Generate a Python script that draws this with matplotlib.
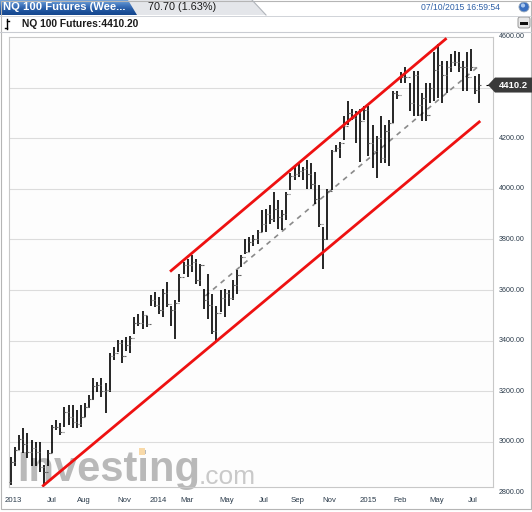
import matplotlib
matplotlib.use("Agg")
import matplotlib.pyplot as plt
from matplotlib.patches import Polygon, Rectangle, Circle, FancyBboxPatch

# ---------------- data ----------------
highs = [2942, 2982, 3028, 3054, 3037, 3008, 3001, 3001, 2909, 2968,
         3067, 3087, 3074, 3139, 3146, 3146, 3126, 3146, 3153, 3186,
         3251, 3238, 3251, 3232, 3350, 3376, 3403, 3403, 3413, 3420,
         3493, 3506, 3519, 3499, 3579, 3592, 3572, 3605, 3632, 3539,
         3559, 3665, 3711, 3724, 3738, 3724, 3705, 3605, 3665, 3585,
         3539, 3599, 3605, 3599, 3638, 3678, 3738, 3803, 3809, 3816,
         3836, 3915, 3922, 3935, 3988, 3955, 3915, 3988, 4061, 4087,
         4101, 4087, 4114, 4101, 4067, 4015, 3849, 3998, 4154, 4173,
         4187, 4287, 4347, 4314, 4307, 4314, 4327, 4327, 4254, 4208,
         4287, 4254, 4274, 4387, 4387, 4460, 4480, 4420, 4466, 4466,
         4380, 4420, 4420, 4539, 4572, 4506, 4506, 4533, 4546, 4539,
         4506, 4539, 4552, 4446, 4453]
lows = [2830, 2903, 2968, 2955, 2935, 2903, 2903, 2883, 2824, 2903,
        2955, 3047, 3028, 3060, 3067, 3054, 3054, 3060, 3100, 3133,
        3166, 3199, 3179, 3113, 3199, 3324, 3357, 3310, 3360, 3353,
        3426, 3459, 3446, 3453, 3539, 3532, 3506, 3493, 3532, 3459,
        3406, 3552, 3665, 3652, 3671, 3625, 3618, 3526, 3486, 3426,
        3400, 3512, 3493, 3539, 3559, 3585, 3691, 3743, 3750, 3776,
        3783, 3829, 3829, 3862, 3869, 3842, 3836, 3875, 3995, 4034,
        4048, 4034, 4001, 4001, 3942, 3849, 3683, 3796, 3995, 4147,
        4121, 4195, 4254, 4274, 4181, 4108, 4274, 4128, 4082, 4042,
        4102, 4102, 4089, 4261, 4354, 4420, 4420, 4307, 4287, 4287,
        4267, 4267, 4340, 4347, 4360, 4340, 4380, 4460, 4486, 4460,
        4387, 4387, 4466, 4374, 4340]
closes = [2920, 2970, 3010, 2990, 2960, 2975, 2960, 2900, 2880, 2955,
          3060, 3060, 3040, 3120, 3100, 3080, 3070, 3100, 3140, 3170,
          3220, 3225, 3200, 3205, 3340, 3350, 3390, 3340, 3385, 3410,
          3470, 3470, 3500, 3465, 3560, 3540, 3520, 3590, 3545, 3520,
          3550, 3650, 3700, 3700, 3710, 3640, 3700, 3560, 3540, 3440,
          3510, 3570, 3590, 3570, 3620, 3660, 3730, 3750, 3790, 3800,
          3830, 3860, 3900, 3880, 3920, 3890, 3900, 3980, 4050, 4060,
          4070, 4080, 4060, 4020, 3960, 3860, 3800, 3990, 4150, 4160,
          4180, 4250, 4300, 4280, 4300, 4270, 4310, 4180, 4150, 4200,
          4120, 4230, 4260, 4380, 4370, 4440, 4440, 4340, 4450, 4330,
          4360, 4290, 4400, 4470, 4490, 4450, 4480, 4500, 4500, 4480,
          4480, 4440, 4480, 4390, 4410]
first_open = 2840

x_tick_pos = [1.5, 11.0, 18.8, 28.5, 36.8, 43.9, 53.6, 62.6, 70.7, 78.5, 88.0, 95.8, 104.5, 113.3]
x_tick_labels = ["2013", "Jul", "Aug", "Nov", "2014", "Mar", "May", "Jul", "Sep", "Nov",
                 "2015", "Feb", "May", "Jul"]
y_ticks = [2800, 3000, 3200, 3400, 3600, 3800, 4000, 4200, 4400, 4600]
y_labels_shown = [2800, 3000, 3200, 3400, 3600, 3800, 4000, 4200, 4600]  # 4400 hidden by price box

# channel (trend) lines: (x0, y0, x1, y1) in bar index / price
upper_channel = [39.7, 3673, 107.0, 4595]
lower_channel = [8.6, 2824, 115.2, 4268]
mid_channel = [48.3, 3577, 114.8, 4485]

last_price = 4410.2

# ---------------- figure ----------------
W, H = 532, 512
fig = plt.figure(figsize=(W / 100, H / 100), dpi=100)
fig.patch.set_facecolor("white")


def fx(px):
    return px / W


def fy(py):
    return 1 - py / H


def fpoly(pts, **kw):
    p = Polygon([(fx(a), fy(b)) for a, b in pts], closed=True,
                transform=fig.transFigure, **kw)
    fig.patches.append(p)
    return p


# header row 1 background
fpoly([(0, 0), (W, 0), (W, 15), (0, 15)], facecolor="#ffffff", edgecolor="none")
# gray tab
fpoly([(120, 0), (252, 0), (266, 15), (120, 15)], facecolor="#e4e6ea", edgecolor="none")
fig.lines.append(plt.Line2D([fx(252), fx(266)], [fy(0), fy(15)], transform=fig.transFigure,
                            color="#b0b4ba", lw=0.8))
# blue tab gradient (stacked strips)
blues = ["#6f9fd8", "#6597d3", "#5b8ecd", "#5286c7", "#497dc1", "#4175bb", "#396db5",
         "#3266af", "#2b5fa8", "#255aa3", "#20559e", "#1c5099", "#194c95", "#174a92", "#15478f"]
for i, c in enumerate(blues):
    x_r0 = 128 + i * 9 / 15
    x_r1 = 128 + (i + 1) * 9 / 15
    fpoly([(0, i), (x_r0, i), (x_r1, i + 1), (0, i + 1)], facecolor=c, edgecolor="none")
fig.text(fx(3), fy(7.5), "NQ 100 Futures (Wee...", color="white", fontsize=8.1,
         fontweight="bold", family="Liberation Sans", va="center", ha="left")
fig.text(fx(148), fy(7.5), "70.70 (1.63%)", color="#1a1a1a", fontsize=7.8,
         family="Liberation Sans", va="center", ha="left")
fig.text(fx(500), fy(7.5), "07/10/2015 16:59:54", color="#2d5fa6", fontsize=6.2,
         family="Liberation Sans", va="center", ha="right")
circ = Circle((fx(524), fy(7)), 0.0095, transform=fig.transFigure, facecolor="#3a6fc0",
              edgecolor="#9ab", lw=0.6)
fig.patches.append(circ)
circ2 = Circle((fx(523), fy(5.5)), 0.004, transform=fig.transFigure, facecolor="#a9c8f0",
               edgecolor="none")
fig.patches.append(circ2)

# separator lines under header rows
fig.lines.append(plt.Line2D([0, 1], [fy(15.5), fy(15.5)], transform=fig.transFigure,
                            color="#c9ccd2", lw=0.6))
fig.lines.append(plt.Line2D([0, 1], [fy(31.7), fy(31.7)], transform=fig.transFigure,
                            color="#c9ccd2", lw=0.8))

# row 2: icon + title
fig.lines.append(plt.Line2D([fx(7), fx(7)], [fy(19), fy(29)], transform=fig.transFigure,
                            color="black", lw=1.0))
fig.lines.append(plt.Line2D([fx(7), fx(9)], [fy(21), fy(21)], transform=fig.transFigure,
                            color="black", lw=1.0))
fig.lines.append(plt.Line2D([fx(5), fx(7)], [fy(28), fy(28)], transform=fig.transFigure,
                            color="black", lw=1.0))
fig.text(fx(22), fy(24), "NQ 100 Futures:4410.20", color="#1a1a1a", fontsize=7.4,
         fontweight="bold", family="Liberation Sans", va="center", ha="left")
# minimize button
btn = FancyBboxPatch((fx(518), fy(28)), fx(12), 11 / H, boxstyle="round,pad=0,rounding_size=0.004",
                     transform=fig.transFigure, facecolor="#e8e8e8", edgecolor="#8a8a8a", lw=0.6)
fig.patches.append(btn)
fig.patches.append(Rectangle((fx(520), fy(24.5)), fx(8), 2.2 / H, transform=fig.transFigure,
                             facecolor="#111111", edgecolor="none"))

# ---------------- price axes ----------------
ax = fig.add_axes([fx(9), fy(487), fx(484), 450 / H])
ax.set_facecolor("#fdfdfd")
ax.set_xlim(0.51, 118.3)
ax.set_ylim(2822, 4600)
for s in ax.spines.values():
    s.set_color("#c8c8c8")
    s.set_linewidth(0.8)
ax.set_xticks([])
ax.set_yticks([])

for v in y_ticks[1:-1]:
    ax.axhline(v, color="#dcdcdc", lw=0.8, zorder=0)

# watermark
ax.text(0.017, -0.006, "Investing", transform=ax.transAxes, fontsize=30, fontweight="bold",
        family="Liberation Sans", color="#b9b9b9", ha="left", va="bottom", zorder=1)
ax.text(0.392, -0.004, ".com", transform=ax.transAxes, fontsize=19, family="Liberation Sans",
        color="#c9c9c9", ha="left", va="bottom", zorder=1)
fig.patches.append(Rectangle((fx(139), fy(455)), fx(6), 7 / H, transform=fig.transFigure,
                             facecolor="#f8d9a8", edgecolor="none", zorder=2))

# OHLC bars
idx = list(range(1, len(highs) + 1))
opens = [first_open] + closes[:-1]
ax.vlines(idx, lows, highs, color="black", lw=1.2, zorder=3)
ax.hlines(opens, [i - 0.4 for i in idx], idx, color="#666666", lw=0.8, zorder=3)
ax.hlines(closes, idx, [i + 0.4 for i in idx], color="#666666", lw=0.8, zorder=3)

# channel lines
ax.plot(upper_channel[0::2], upper_channel[1::2], color="#ee1111", lw=2.0, zorder=4,
        solid_capstyle="butt")
ax.plot(lower_channel[0::2], lower_channel[1::2], color="#ee1111", lw=2.0, zorder=4,
        solid_capstyle="butt")
ax.plot(mid_channel[0::2], mid_channel[1::2], color="#8a8a8a", lw=1.2, ls=(0, (3, 3)), zorder=2)

# last price marker line
ax.hlines([last_price], 116.5, 118.3, color="black", lw=0.8, zorder=3)

# y labels (right side)
ytr = ax.get_yaxis_transform()
for v in y_labels_shown:
    ax.text((512 - 9) / 484, v, f"{v:.2f}", transform=ytr, fontsize=5.1,
            family="Liberation Sans", color="#2a3a4a", ha="center", va="center", clip_on=False)

# x labels
xtr = ax.get_xaxis_transform()
for p, lab in zip(x_tick_pos, x_tick_labels):
    ax.text(p, (487 - 500) / 450, lab, transform=xtr, fontsize=5.6,
            family="Liberation Sans", color="#2a3a4a", ha="center", va="center", clip_on=False)

# price label box
ydisp = 487 - (last_price - 2822) * 450 / (4600 - 2822)
fpoly([(488, ydisp), (495, ydisp - 7.5), (532, ydisp - 7.5), (532, ydisp + 7.5), (495, ydisp + 7.5)],
      facecolor="#3a3a3a", edgecolor="none", zorder=5)
fig.text(fx(513.5), fy(ydisp), "4410.2", color="white", fontsize=6.8, fontweight="bold",
         family="Liberation Sans", ha="center", va="center", zorder=6)

# outer border
fig.patches.append(Rectangle((fx(0.5), fy(509)), fx(530.5), 508.5 / H, transform=fig.transFigure,
                             facecolor="none", edgecolor="#b5b5b5", lw=0.8))

fig.savefig("out.png", dpi=100)
